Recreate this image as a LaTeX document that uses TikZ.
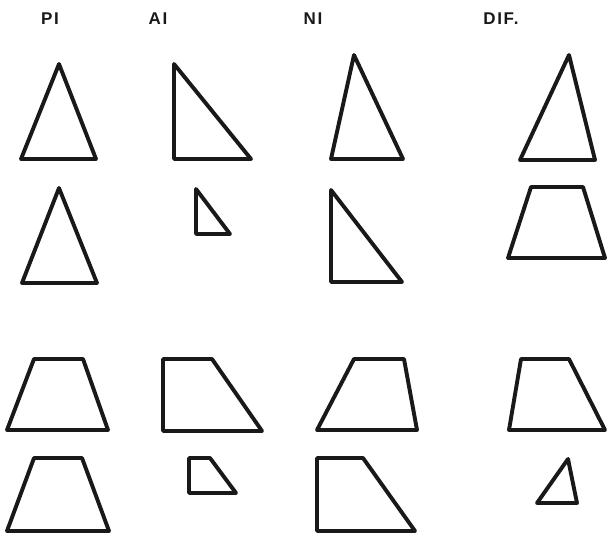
\documentclass[tikz,border=0pt]{standalone}
\usepackage{fontspec}
\setmainfont{Liberation Sans}
\begin{document}
\begin{tikzpicture}[x=1pt,y=-1pt,
  fig/.style={draw=black!90, line width=3.9pt, line join=round, line cap=round},
  head/.style={font=\fontsize{17}{19}\selectfont\bfseries\addfontfeature{LetterSpace=10}, text=black!90, inner sep=0pt, anchor=center}]
\useasboundingbox[fill=white] (0,0) rectangle (607,536);
% headings
\node[head] (hPI) at (50,19) {PI};
\node[head] (hAI) at (158,19) {AI};
\node[head] (hNI) at (313,19) {NI};
\node[head] (hDIF) at (501,19) {DIF.};
% row 1
\draw[fig] (59,64) -- (21,159) -- (96,159) -- cycle;
\draw[fig] (174,64) -- (174,159) -- (251,159) -- cycle;
\draw[fig] (354,55) -- (331,159) -- (403,159) -- cycle;
\draw[fig] (569,55) -- (520,160) -- (595,160) -- cycle;
% row 2
\draw[fig] (59,188) -- (22,283) -- (97,283) -- cycle;
\draw[fig] (196,189) -- (196,234) -- (230,234) -- cycle;
\draw[fig] (331,190) -- (331,282) -- (402,282) -- cycle;
\draw[fig] (531,187) -- (583,187) -- (605,258) -- (508,258) -- cycle;
% row 3
\draw[fig] (34,359) -- (83,359) -- (108,430) -- (7,430) -- cycle;
\draw[fig] (163,359) -- (212,359) -- (262,431) -- (163,431) -- cycle;
\draw[fig] (354,359) -- (404,359) -- (417,430) -- (317,430) -- cycle;
\draw[fig] (521,359) -- (569,359) -- (605,430) -- (509,430) -- cycle;
% row 4
\draw[fig] (34,458) -- (82,458) -- (109,531) -- (7,531) -- cycle;
\draw[fig] (189,458) -- (210,458) -- (236,493) -- (189,493) -- cycle;
\draw[fig] (317,458) -- (363,458) -- (415,531) -- (317,531) -- cycle;
\draw[fig] (568,459) -- (577,503) -- (537,503) -- cycle;
\end{tikzpicture}
\end{document}
